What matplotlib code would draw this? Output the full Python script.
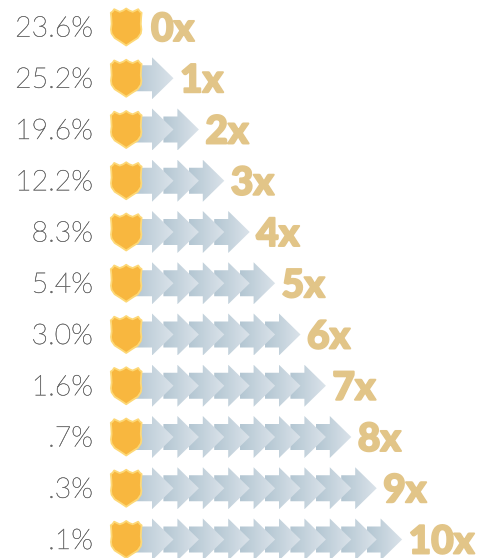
import numpy as np
import matplotlib
matplotlib.use("Agg")
import matplotlib.pyplot as plt
import matplotlib.patheffects as pe
from matplotlib.patches import Polygon
from matplotlib.colors import LinearSegmentedColormap

percent_labels = ["23.6%", "25.2%", "19.6%", "12.2%", "8.3%", "5.4%", "3.0%", "1.6%", ".7%", ".3%", ".1%"]
multipliers = [0, 1, 2, 3, 4, 5, 6, 7, 8, 9, 10]

fig = plt.figure(figsize=(4.89, 5.58), dpi=100)
ax = fig.add_axes([0, 0, 1, 1])
cmap = LinearSegmentedColormap.from_list("arrow", ["#b3c6d2", "#dbe3ea"])
grad = np.linspace(0, 1, 64).reshape(1, -1)

ROW0, ROWH = 27.0, 51.25
STEP = 25.4
FIRST_TIP = 173.5


def draw_arrow(tip, yc, left, z):
    base = tip - 21.5
    pts = [(left, yc - 13), (base, yc - 13), (base, yc - 21), (tip, yc),
           (base, yc + 21), (base, yc + 13), (left, yc + 13)]
    poly = Polygon(pts, closed=True, fc="none", ec="none", transform=ax.transData)
    ax.add_patch(poly)
    im = ax.imshow(grad, cmap=cmap, extent=(left, tip, yc + 21, yc - 21),
                   aspect="auto", zorder=z, interpolation="bilinear")
    im.set_clip_path(poly)


def draw_shield(yc):
    cx = 126.2
    half = [(0, -18.5), (3, -16.5), (6.5, -15.2), (9.5, -16.6), (12, -17.8), (13.6, -15.5),
            (15.4, -14.2), (14.9, -9), (14.6, -3), (15.2, 2.5), (14.6, 6.5),
            (11.5, 11), (5.5, 14.8), (0, 18.5)]
    right = [(cx + a, yc + b) for a, b in half]
    left = [(cx - a, yc + b) for a, b in reversed(half[1:-1])]
    ax.add_patch(Polygon(right + left, closed=True, fc="#f8b73f", ec="#fdd877",
                         lw=1.3, joinstyle="round", zorder=50))


for i, (lab, n) in enumerate(zip(percent_labels, multipliers)):
    yc = ROW0 + i * ROWH
    tip = FIRST_TIP - STEP
    for k in range(n):
        t = FIRST_TIP + k * STEP
        left = 134 if k == 0 else t - 21.5 - 14
        draw_arrow(t, yc, left, 40 - k)
        tip = t
    draw_shield(yc)
    p = ax.text(93, yc + 2, lab, ha="right", va="center", fontsize=20.5,
                family="Lato", weight="light", color="#6a6a6a", zorder=60)
    p.set_path_effects([pe.withStroke(linewidth=0.3, foreground="#6a6a6a")])
    lx = 151 if n == 0 else tip + 6.5
    t = ax.text(lx, yc - 1, f"{n}x", ha="left", va="center_baseline", fontsize=28,
                family="Lato", weight="black", color="#e2c588", zorder=60)
    t.set_path_effects([pe.withStroke(linewidth=1.4, foreground="#e2c588")])

ax.set_xlim(0, 489)
ax.set_ylim(558, 0)
ax.axis("off")
fig.savefig("out.png", dpi=100, facecolor="white")
